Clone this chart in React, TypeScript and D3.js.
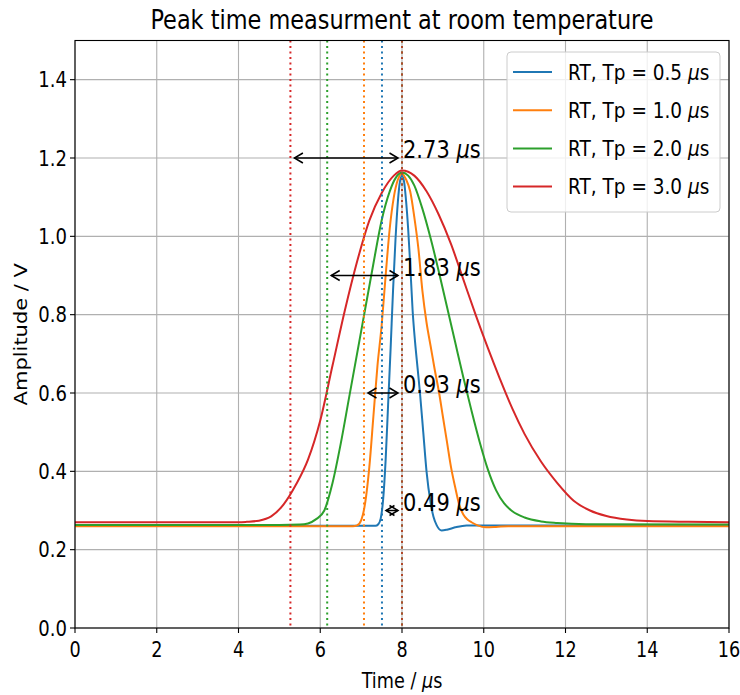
import React from "react";
import * as d3 from "d3";

const blueT = [0, 7.0, 7.35, 7.42, 7.48, 7.54, 7.6, 7.66, 7.72, 7.78, 7.84, 7.9, 7.95, 8.0, 8.05, 8.1, 8.15, 8.2, 8.26, 8.32, 8.38, 8.44, 8.52, 8.6, 8.7, 8.77, 8.85, 8.97, 9.1, 9.3, 9.58, 10, 16];
const blueV = [0.261, 0.261, 0.261, 0.265, 0.28, 0.33, 0.43, 0.57, 0.71, 0.86, 0.99, 1.09, 1.14, 1.155, 1.14, 1.09, 1.02, 0.93, 0.81, 0.73, 0.665, 0.6, 0.5, 0.4, 0.32, 0.284, 0.262, 0.249, 0.251, 0.257, 0.262, 0.262, 0.262];

const orangeT = [0, 6.8, 6.9, 7.0, 7.1, 7.2, 7.3, 7.4, 7.5, 7.6, 7.7, 7.8, 7.9, 8.0, 8.1, 8.2, 8.3, 8.4, 8.5, 8.6, 8.7, 8.8, 8.9, 9.0, 9.1, 9.2, 9.3, 9.4, 9.5, 9.6, 9.7, 9.85, 10.05, 10.3, 10.6, 16];
const orangeV = [0.26, 0.26, 0.262, 0.275, 0.32, 0.41, 0.54, 0.67, 0.77, 0.9, 1.02, 1.1, 1.145, 1.16, 1.145, 1.115, 1.05, 0.97, 0.86, 0.78, 0.72, 0.66, 0.605, 0.54, 0.475, 0.41, 0.36, 0.315, 0.29, 0.277, 0.27, 0.262, 0.257, 0.258, 0.26, 0.26];

const greenT = [0, 5.0, 5.5, 5.7, 5.9, 6.1, 6.3, 6.5, 6.7, 6.9, 7.1, 7.3, 7.5, 7.7, 7.85, 8.0, 8.15, 8.3, 8.5, 8.7, 8.9, 9.1, 9.3, 9.5, 9.7, 9.9, 10.1, 10.3, 10.5, 10.7, 11.0, 11.4, 11.8, 12.5, 16];
const greenV = [0.263, 0.263, 0.264, 0.267, 0.278, 0.3, 0.37, 0.47, 0.585, 0.7, 0.815, 0.93, 1.04, 1.115, 1.15, 1.163, 1.155, 1.13, 1.07, 0.995, 0.91, 0.82, 0.73, 0.64, 0.555, 0.475, 0.405, 0.352, 0.318, 0.298, 0.282, 0.272, 0.268, 0.265, 0.264];

const redT = [0, 4.0, 4.2, 4.5, 4.8, 5.1, 5.4, 5.7, 6.0, 6.3, 6.6, 6.9, 7.2, 7.5, 7.8, 8.0, 8.3, 8.6, 8.9, 9.2, 9.5, 9.8, 10.1, 10.4, 10.7, 11.0, 11.4, 11.8, 12.2, 12.6, 13.0, 13.5, 14.0, 15.0, 16.0];
const redV = [0.27, 0.27, 0.271, 0.274, 0.285, 0.315, 0.365, 0.43, 0.53, 0.67, 0.81, 0.935, 1.04, 1.11, 1.155, 1.168, 1.155, 1.115, 1.055, 0.98, 0.89, 0.8, 0.715, 0.635, 0.56, 0.495, 0.425, 0.37, 0.325, 0.3, 0.286, 0.277, 0.273, 0.271, 0.27];

const seriesLabels = ["0.5", "1.0", "2.0", "3.0"];
const peakTimes = [0.49, 0.93, 1.83, 2.73];
const peakAt = 8.0;
const arrowLevels = [0.3, 0.6, 0.9, 1.2];
const xTicks = [0, 2, 4, 6, 8, 10, 12, 14, 16];
const yTicks = [0, 0.2, 0.4, 0.6, 0.8, 1.0, 1.2, 1.4];
const colors = ["#1f77b4", "#ff7f0e", "#2ca02c", "#d62728"];

const W = 740, H = 695;
const L = 75, R = 729, T = 40.5, B = 628;
const FONT = "DejaVu Sans, sans-serif";

function Txt({ x, y, size, sx = 0.88, sy = 1, anchor = "start", children, rotate = 0 }: any) {
  return (
    <text
      transform={`translate(${x},${y}) rotate(${rotate}) scale(${sx},${sy})`}
      fontSize={size}
      fontFamily={FONT}
      textAnchor={anchor}
      fill="#000"
    >
      {children}
    </text>
  );
}

export default function App() {
  const x = d3.scaleLinear().domain([0, 16]).range([L, R]);
  const y = d3.scaleLinear().domain([0, 1.5]).range([B, T]);
  const series = [
    { t: blueT, v: blueV },
    { t: orangeT, v: orangeV },
    { t: greenT, v: greenV },
    { t: redT, v: redV },
  ];
  const line = d3
    .line<[number, number]>()
    .x((d) => x(d[0]))
    .y((d) => y(d[1]))
    .curve(d3.curveMonotoneX);

  const shrink = 4;
  const head = 8.5, hw = 5;

  return (
    <svg width={W} height={H} style={{ position: "absolute", left: 0, top: 0, background: "#fff" }}>
      <defs>
        <clipPath id="plot">
          <rect x={L} y={T} width={R - L} height={B - T} />
        </clipPath>
      </defs>
      <rect x={0} y={0} width={W} height={H} fill="#fff" />
      {xTicks.map((t) => (
        <line key={"gx" + t} x1={x(t)} x2={x(t)} y1={T} y2={B} stroke="#b0b0b0" strokeWidth={1.1} />
      ))}
      {yTicks.map((t) => (
        <line key={"gy" + t} x1={L} x2={R} y1={y(t)} y2={y(t)} stroke="#b0b0b0" strokeWidth={1.1} />
      ))}
      <g clipPath="url(#plot)">
        {series.map((s, i) => (
          <path
            key={"s" + i}
            d={line(s.t.map((tt, j) => [tt, s.v[j]]) as [number, number][]) || ""}
            fill="none"
            stroke={colors[i]}
            strokeWidth={2}
          />
        ))}
        {peakTimes.map((p, i) => (
          <line key={"vs" + i} x1={x(peakAt - p)} x2={x(peakAt - p)} y1={T} y2={B} stroke={colors[i]} strokeWidth={2} strokeDasharray="2,3.5" />
        ))}
        {peakTimes.map((p, i) => (
          <line key={"ve" + i} x1={x(peakAt)} x2={x(peakAt)} y1={T} y2={B} stroke={colors[i]} strokeWidth={2} strokeDasharray="2,3.5" opacity={0.7} />
        ))}
        {peakTimes.map((p, i) => {
          const x1 = x(peakAt - p) + shrink;
          const x2 = x(peakAt) - shrink;
          const yy = y(arrowLevels[i]);
          return (
            <g key={"ar" + i} stroke="#000" strokeWidth={1.5} fill="none">
              <line x1={x1} x2={x2} y1={yy} y2={yy} />
              <path d={`M${x1 + head},${yy - hw} L${x1},${yy} L${x1 + head},${yy + hw}`} />
              <path d={`M${x2 - head},${yy - hw} L${x2},${yy} L${x2 - head},${yy + hw}`} />
            </g>
          );
        })}
      </g>
      {peakTimes.map((p, i) => (
        <Txt key={"lab" + i} x={x(peakAt) + 1} y={y(arrowLevels[i])} size={25} sx={0.84}>
          {p.toFixed(2) + " "}
          <tspan fontStyle="italic">μ</tspan>s
        </Txt>
      ))}
      <rect x={L} y={T} width={R - L} height={B - T} fill="none" stroke="#000" strokeWidth={1.1} />
      {xTicks.map((t) => (
        <g key={"xt" + t}>
          <line x1={x(t)} x2={x(t)} y1={B} y2={B + 5} stroke="#000" strokeWidth={1.1} />
          <Txt x={x(t)} y={B + 29} size={21.5} sx={0.82} anchor="middle">
            {String(t)}
          </Txt>
        </g>
      ))}
      {yTicks.map((t) => (
        <g key={"yt" + t}>
          <line x1={L - 5} x2={L} y1={y(t)} y2={y(t)} stroke="#000" strokeWidth={1.1} />
          <Txt x={L - 8} y={y(t) + 7.5} size={21.5} sx={0.84} anchor="end">
            {t.toFixed(1)}
          </Txt>
        </g>
      ))}
      <Txt x={(L + R) / 2} y={688} size={21.5} sx={0.82} anchor="middle">
        {"Time / "}
        <tspan fontStyle="italic">μ</tspan>s
      </Txt>
      <Txt x={27} y={(T + B) / 2} size={21} sx={1} sy={0.84} anchor="middle" rotate={-90}>
        Amplitude / V
      </Txt>
      <Txt x={(L + R) / 2} y={29} size={27} sx={0.83} anchor="middle">
        Peak time measurment at room temperature
      </Txt>
      <rect x={507} y={52} width={213} height={160} rx={4} fill="#fff" fillOpacity={0.8} stroke="#cccccc" strokeWidth={1} />
      {seriesLabels.map((s, i) => {
        const ly = 72 + i * 38.2;
        return (
          <g key={"lg" + i}>
            <line x1={513} x2={552} y1={ly} y2={ly} stroke={colors[i]} strokeWidth={2} />
            <Txt x={568} y={ly + 7.5} size={21} sx={0.88}>
              {`RT, Tp = ${s} `}
              <tspan fontStyle="italic">μ</tspan>s
            </Txt>
          </g>
        );
      })}
    </svg>
  );
}
